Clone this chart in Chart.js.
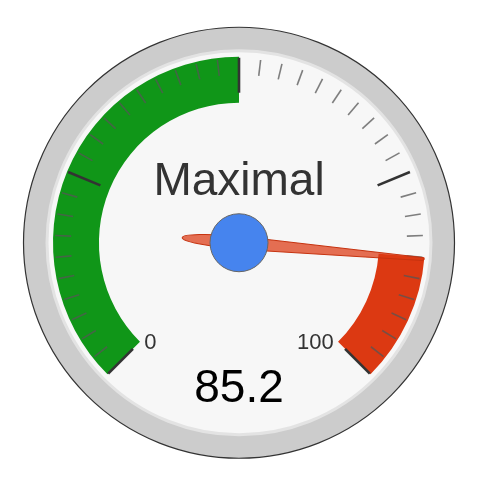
<!DOCTYPE html>
<html><head><meta charset="utf-8">
<script src="https://cdn.jsdelivr.net/npm/chart.js@4.4.0/dist/chart.umd.min.js"></script>
<style>html,body{margin:0;padding:0;background:#fff;} canvas{display:block}</style>
</head><body>
<canvas id="c" width="480" height="484"></canvas>
<script>
// ---- data ----
const gaugeLabel = 'Maximal';
const gaugeValue = [85.2];
const scaleRange = [0, 100];
const bandLimits = [0, 50, 85, 100];
const bandNames = ['green', 'none', 'red'];
const bandColors = ['#109618', 'rgba(0,0,0,0)', '#dc3912'];
const tickLabels = ['0', '100'];
const majorDivisions = 4;
const minorDivisions = 10;

const bandSegments = bandLimits.slice(1).map((v, i) => v - bandLimits[i]);

const gaugePlugin = {
  id: 'gauge',
  beforeDatasetsDraw(chart) {
    const arc = chart.getDatasetMeta(0).data[0];
    const {x, y} = arc;
    const ctx = chart.ctx;
    ctx.save();
    ctx.beginPath(); ctx.arc(x, y, 215.5, 0, Math.PI * 2);
    ctx.fillStyle = '#cccccc'; ctx.fill();
    ctx.lineWidth = 1.2; ctx.strokeStyle = '#333333'; ctx.stroke();
    ctx.beginPath(); ctx.arc(x, y, 192, 0, Math.PI * 2);
    ctx.fillStyle = '#f7f7f7'; ctx.fill();
    ctx.lineWidth = 3; ctx.strokeStyle = '#e3e3e3'; ctx.stroke();
    ctx.restore();
  },
  afterDatasetsDraw(chart) {
    const meta = chart.getDatasetMeta(0);
    const first = meta.data[0], last = meta.data[meta.data.length - 1];
    const {x, y} = first;
    const start = first.startAngle, end = last.endAngle;
    const [vmin, vmax] = scaleRange;
    const toAngle = v => start + (v - vmin) / (vmax - vmin) * (end - start);
    const ctx = chart.ctx;
    ctx.save();
    // ticks
    const total = majorDivisions * minorDivisions;
    for (let i = 0; i <= total; i++) {
      const a = start + i / total * (end - start);
      const major = i % minorDivisions === 0;
      const r1 = major ? 150 : 168, r2 = major ? 185 : 184;
      ctx.beginPath();
      ctx.moveTo(x + Math.cos(a) * r1, y + Math.sin(a) * r1);
      ctx.lineTo(x + Math.cos(a) * r2, y + Math.sin(a) * r2);
      ctx.lineWidth = major ? 2.6 : 1.6;
      ctx.strokeStyle = major ? '#333333' : 'rgba(85,85,85,0.75)';
      ctx.stroke();
    }
    // min / max labels
    ctx.font = '22px "Liberation Sans", Arial, sans-serif';
    ctx.fillStyle = '#333333';
    ctx.textBaseline = 'alphabetic';
    const lr = 134;
    ctx.textAlign = 'left';
    ctx.fillText(tickLabels[0], x + Math.cos(start) * lr, y + Math.sin(start) * lr + 12);
    ctx.textAlign = 'right';
    ctx.fillText(tickLabels[1], x + Math.cos(end) * lr, y + Math.sin(end) * lr + 12);
    // title
    ctx.textAlign = 'center';
    ctx.font = '46px "Liberation Sans", Arial, sans-serif';
    ctx.fillStyle = '#333333';
    ctx.fillText(gaugeLabel, x, y - 48);
    // value
    ctx.fillStyle = '#000000';
    ctx.fillText(String(gaugeValue[0]), x, y + 159);
    // needle
    const na = toAngle(gaugeValue[0]);
    ctx.save();
    ctx.translate(x, y);
    ctx.rotate(na);
    ctx.beginPath();
    ctx.ellipse(0, 0, 57, 6.5, 0, Math.PI / 2, Math.PI * 1.5, false);
    ctx.lineTo(184, -1.5);
    ctx.quadraticCurveTo(188, 0, 184, 1.5);
    ctx.closePath();
    ctx.fillStyle = 'rgba(220,57,18,0.72)';
    ctx.fill();
    ctx.lineWidth = 1;
    ctx.strokeStyle = '#c63310';
    ctx.stroke();
    ctx.restore();
    // hub
    ctx.beginPath();
    ctx.arc(x, y, 29, 0, Math.PI * 2);
    ctx.fillStyle = '#4684ee';
    ctx.fill();
    ctx.lineWidth = 1;
    ctx.strokeStyle = '#666666';
    ctx.stroke();
    ctx.restore();
  }
};

new Chart(document.getElementById('c'), {
  type: 'doughnut',
  data: {
    labels: bandNames,
    datasets: [{ data: bandSegments, backgroundColor: bandColors, borderWidth: 0 }]
  },
  options: {
    responsive: false,
    animation: false,
    events: [],
    rotation: -135,
    circumference: 270,
    radius: 186,
    cutout: '75.3%',
    layout: { padding: { top: 0, left: 0, right: 2, bottom: 53 } },
    plugins: { legend: { display: false }, tooltip: { enabled: false } }
  },
  plugins: [gaugePlugin]
});
</script>
</body></html>
